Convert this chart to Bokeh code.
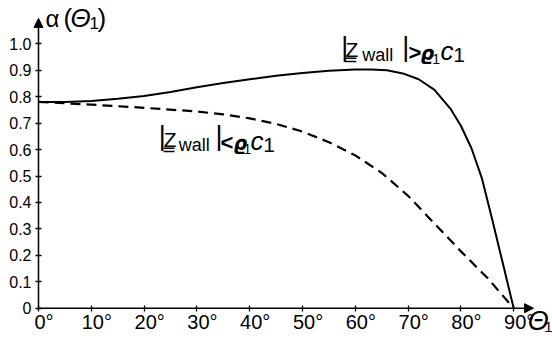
from bokeh.plotting import figure
from bokeh.models import LinearAxis, FixedTicker, Arrow, NormalHead, Label, Range1d
from bokeh.embed import file_html
from bokeh.resources import INLINE

# ---- data ----
theta_solid = [0, 5, 10, 15, 20, 25, 30, 35, 40, 45, 50, 55, 60, 63, 66, 69, 72, 75, 78, 80, 82, 84, 86, 88, 90]
alpha_solid = [0.780, 0.780, 0.784, 0.792, 0.803, 0.818, 0.836, 0.852, 0.866, 0.879, 0.890, 0.898, 0.903,
               0.903, 0.900, 0.888, 0.866, 0.826, 0.755, 0.690, 0.605, 0.490, 0.330, 0.165, 0.0]

theta_dashed = [0, 10, 20, 30, 35, 40, 45, 50, 55, 60, 65, 70, 75, 80, 85, 90]
alpha_dashed = [0.780, 0.770, 0.758, 0.744, 0.733, 0.718, 0.697, 0.668, 0.628, 0.578, 0.512, 0.425,
                0.320, 0.215, 0.115, 0.0]

x_ticks = [0, 10, 20, 30, 40, 50, 60, 70, 80, 90]
x_tick_labels = ["0°", "10°", "20°", "30°", "40°", "50°", "60°", "70°", "80°", "90°"]
y_ticks = [0, 0.1, 0.2, 0.3, 0.4, 0.5, 0.6, 0.7, 0.8, 0.9, 1.0]
y_tick_labels = ["0", "0.1", "0.2", "0.3", "0.4", "0.5", "0.6", "0.7", "0.8", "0.9", "1.0"]

x_axis_end = 93.75
y_axis_end = 1.096

SANS = "Liberation Sans"

p = figure(width=552, height=339, x_range=Range1d(-7.197, 97.35), y_range=Range1d(-0.1184, 1.1638),
           output_backend="svg", toolbar_location=None, x_axis_location=None, y_axis_location=None,
           min_border=0)
p.outline_line_color = None
p.grid.visible = False
p.background_fill_color = "white"

# axes
xaxis = LinearAxis(fixed_location=0, ticker=FixedTicker(ticks=x_ticks),
                   major_label_overrides={t: "\u2007" + l for t, l in zip(x_ticks, x_tick_labels)},
                   bounds=(0, x_axis_end))
xaxis.axis_line_color = None
xaxis.major_tick_in = 3
xaxis.major_tick_out = 3
xaxis.major_tick_line_width = 1.3
xaxis.minor_tick_line_color = None
xaxis.major_label_text_font = SANS
xaxis.major_label_text_font_size = "20px"
xaxis.major_label_text_color = "black"
xaxis.major_label_standoff = 0
p.add_layout(xaxis, "below")

yaxis = LinearAxis(fixed_location=0, ticker=FixedTicker(ticks=y_ticks),
                   major_label_overrides=dict(zip(y_ticks, y_tick_labels)),
                   bounds=(0, y_axis_end))
yaxis.axis_line_color = None
yaxis.major_tick_in = 3
yaxis.major_tick_out = 3
yaxis.major_tick_line_width = 1.3
yaxis.minor_tick_line_color = None
yaxis.major_label_text_font = SANS
yaxis.major_label_text_font_size = "16px"
yaxis.major_label_text_color = "black"
yaxis.major_label_standoff = 4
p.add_layout(yaxis, "left")

# axis lines with arrow heads
p.add_layout(Arrow(end=NormalHead(size=9, fill_color="black", line_color="black"),
                   x_start=0, y_start=0, x_end=x_axis_end, y_end=0, line_width=1.5, line_color="black"))
p.add_layout(Arrow(end=NormalHead(size=9, fill_color="black", line_color="black"),
                   x_start=0, y_start=0, x_end=0, y_end=y_axis_end, line_width=1.5, line_color="black"))

# curves
p.line(theta_solid, alpha_solid, line_width=2, line_color="black")
p.line(theta_dashed, alpha_dashed, line_width=2.2, line_color="black", line_dash="10 6")

K = 0.38  # baseline compensation (fraction of font size)


def piece(x, y, dx, dy, text, size, font=SANS, style="normal"):
    p.add_layout(Label(x=x, y=y, x_offset=dx, y_offset=dy + K * size, text=text, text_font=font,
                       text_font_size=f"{size}px", text_font_style=style,
                       text_baseline="alphabetic", text_align="left", text_color="black"))


def wall_label(x, y, dxs, rel):
    piece(x, y, dxs[0], 5.5, "|", 27)
    piece(x, y, dxs[1], 4.5, "Z", 21)
    piece(x, y, dxs[1], 4.5, "\u2017", 21, font="DejaVu Sans")
    piece(x, y, dxs[2], 0, "wall", 18)
    piece(x, y, dxs[3], 5.5, "|", 27)
    piece(x, y, dxs[4], 1, rel, 22, style="bold")
    piece(x, y, dxs[5], 2, "\u03f1", 19, font="DejaVu Sans", style="bold italic")
    piece(x, y, dxs[6], -2, "1", 14)
    piece(x, y, dxs[7], 1.5, "c", 26, style="italic")
    piece(x, y, dxs[8], -0.5, "1", 21)


wall_label(57.33, 0.930, [0, 4.3, 21, 61, 67.3, 79.3, 91, 99.3, 112], ">")
wall_label(22.78, 0.590, [0, 5, 20, 56.7, 61.7, 74.7, 84.7, 91.7, 104.5], "<")

# y-axis title  alpha(Theta_1)
piece(0, 1.0617, 7, 0, "α", 24)
piece(0, 1.0617, 25, 0, "(", 26)
piece(0, 1.0617, 32, 0, "Θ", 26, style="italic")
piece(0, 1.0617, 51, -2.3, "1", 17)
piece(0, 1.0617, 59, 0, ")", 26)

# x-axis title Theta_1
piece(90, 0, 14, -23.3, "Θ", 27, style="italic")
piece(90, 0, 30.5, -25, "1", 15)

open("out.html", "w").write(file_html(p, INLINE))
